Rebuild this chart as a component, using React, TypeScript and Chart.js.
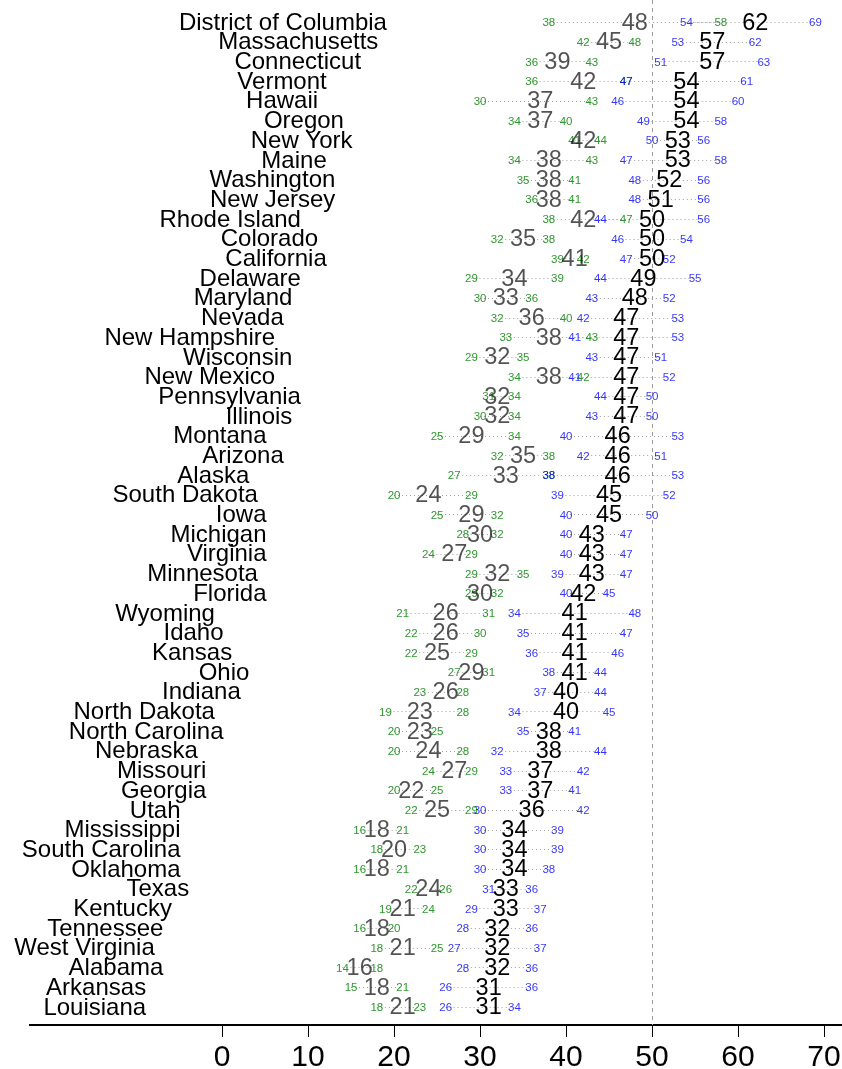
import React, { useEffect, useRef } from "react";
import { Chart, registerables } from "chart.js";

Chart.register(...registerables);

const states = [
  "District of Columbia", "Massachusetts", "Connecticut", "Vermont", "Hawaii", "Oregon",
  "New York", "Maine", "Washington", "New Jersey", "Rhode Island", "Colorado", "California",
  "Delaware", "Maryland", "Nevada", "New Hampshire", "Wisconsin", "New Mexico", "Pennsylvania",
  "Illinois", "Montana", "Arizona", "Alaska", "South Dakota", "Iowa", "Michigan", "Virginia",
  "Minnesota", "Florida", "Wyoming", "Idaho", "Kansas", "Ohio", "Indiana", "North Dakota",
  "North Carolina", "Nebraska", "Missouri", "Georgia", "Utah", "Mississippi", "South Carolina",
  "Oklahoma", "Texas", "Kentucky", "Tennessee", "West Virginia", "Alabama", "Arkansas", "Louisiana",
];

const greenLo = [38, 42, 36, 36, 30, 34, 41, 34, 35, 36, 38, 32, 39, 29, 30, 32, 33, 29, 34, 31, 30, 25, 32, 27, 20, 25, 28, 24, 29, 29, 21, 22, 22, 27, 23, 19, 20, 20, 24, 20, 22, 16, 18, 16, 22, 19, 16, 18, 14, 15, 18];
const greyEst = [48, 45, 39, 42, 37, 37, 42, 38, 38, 38, 42, 35, 41, 34, 33, 36, 38, 32, 38, 32, 32, 29, 35, 33, 24, 29, 30, 27, 32, 30, 26, 26, 25, 29, 26, 23, 23, 24, 27, 22, 25, 18, 20, 18, 24, 21, 18, 21, 16, 18, 21];
const greenHi = [58, 48, 43, 47, 43, 40, 44, 43, 41, 41, 47, 38, 42, 39, 36, 40, 43, 35, 42, 34, 34, 34, 38, 38, 29, 32, 32, 29, 35, 32, 31, 30, 29, 31, 28, 28, 25, 28, 29, 25, 29, 21, 23, 21, 26, 24, 20, 25, 18, 21, 23];
const blueLo = [54, 53, 51, 47, 46, 49, 50, 47, 48, 48, 44, 46, 47, 44, 43, 42, 41, 43, 41, 44, 43, 40, 42, 38, 39, 40, 40, 40, 39, 40, 34, 35, 36, 38, 37, 34, 35, 32, 33, 33, 30, 30, 30, 30, 31, 29, 28, 27, 28, 26, 26];
const blackEst = [62, 57, 57, 54, 54, 54, 53, 53, 52, 51, 50, 50, 50, 49, 48, 47, 47, 47, 47, 47, 47, 46, 46, 46, 45, 45, 43, 43, 43, 42, 41, 41, 41, 41, 40, 40, 38, 38, 37, 37, 36, 34, 34, 34, 33, 33, 32, 32, 32, 31, 31];
const blueHi = [69, 62, 63, 61, 60, 58, 56, 58, 56, 56, 56, 54, 52, 55, 52, 53, 53, 51, 52, 50, 50, 53, 51, 53, 52, 50, 47, 47, 47, 45, 48, 47, 46, 44, 44, 45, 41, 44, 42, 41, 42, 39, 39, 38, 36, 37, 36, 37, 36, 36, 34];

const xTicks = [0, 10, 20, 30, 40, 50, 60, 70];
const referenceValue = 50;
const labelOffset = 35;

const FONT = "'Liberation Sans', Arial, Helvetica, sans-serif";
const GREEN = "rgba(0,128,0,0.82)";
const BLUE = "rgba(0,0,255,0.8)";
const GREY = "rgba(0,0,0,0.68)";
const BLACK = "#000";

const pts = (vals: number[]) => vals.map((v, i) => ({ x: v, y: i }));

const dotPlugin = {
  id: "dotText",
  afterDatasetsDraw(chart: any) {
    const { ctx, chartArea } = chart;
    const xs = chart.scales.x;
    const ys = chart.scales.y;
    ctx.save();
    // reference dashed line
    const xr = Math.round(xs.getPixelForValue(referenceValue)) + 0.5;
    ctx.strokeStyle = "#9a9a9a";
    ctx.lineWidth = 1;
    ctx.setLineDash([4, 4]);
    ctx.beginPath();
    ctx.moveTo(xr, chartArea.top);
    ctx.lineTo(xr, chartArea.bottom);
    ctx.stroke();

    // dotted CI lines
    ctx.strokeStyle = "#a0a0a0";
    ctx.setLineDash([1, 3]);
    for (let i = 0; i < states.length; i++) {
      const y = Math.round(ys.getPixelForValue(i)) + 0.5;
      for (const [a, b] of [[greenLo[i], greenHi[i]], [blueLo[i], blueHi[i]]]) {
        ctx.beginPath();
        ctx.moveTo(xs.getPixelForValue(a), y);
        ctx.lineTo(xs.getPixelForValue(b), y);
        ctx.stroke();
      }
    }
    ctx.setLineDash([]);

    ctx.textAlign = "center";
    ctx.textBaseline = "middle";
    const metas = chart.data.datasets.map((_: any, k: number) => chart.getDatasetMeta(k));
    const drawSet = (k: number, vals: number[], color: string, size: number) => {
      ctx.fillStyle = color;
      ctx.font = `${size}px ${FONT}`;
      metas[k].data.forEach((el: any, i: number) => {
        ctx.fillText(String(vals[i]), el.x, el.y + 1);
      });
    };
    drawSet(0, greenLo, GREEN, 11.5);
    drawSet(2, greenHi, GREEN, 11.5);
    drawSet(1, greyEst, GREY, 23.5);
    drawSet(3, blueLo, BLUE, 11.5);
    drawSet(5, blueHi, BLUE, 11.5);
    drawSet(4, blackEst, BLACK, 23.5);

    // state labels
    ctx.fillStyle = "#000";
    ctx.textAlign = "right";
    ctx.font = `24px ${FONT}`;
    for (let i = 0; i < states.length; i++) {
      const x = xs.getPixelForValue(blueLo[i] - labelOffset) + 1.5;
      const y = ys.getPixelForValue(i);
      ctx.fillText(states[i], x, y + 1);
    }
    ctx.restore();
  },
};

export default function App() {
  const ref = useRef<HTMLCanvasElement | null>(null);
  useEffect(() => {
    if (!ref.current) return;
    const mk = (vals: number[]) => ({
      data: pts(vals),
      pointRadius: 0,
      pointHoverRadius: 0,
      showLine: false,
    });
    const chart = new Chart(ref.current, {
      type: "scatter",
      data: {
        datasets: [mk(greenLo), mk(greyEst), mk(greenHi), mk(blueLo), mk(blackEst), mk(blueHi)],
      },
      options: {
        animation: false,
        responsive: false,
        events: [],
        layout: { padding: { left: 30, right: 0, top: 0, bottom: 0 } },
        plugins: { legend: { display: false }, tooltip: { enabled: false } },
        scales: {
          x: {
            type: "linear",
            min: -22.33,
            max: 72.09,
            afterBuildTicks: (s: any) => {
              s.ticks = xTicks.map((v) => ({ value: v }));
            },
            afterFit: (s: any) => {
              s.height = 44;
              s.paddingLeft = 0;
              s.paddingRight = 0;
            },
            grid: { drawOnChartArea: false, drawTicks: true, tickLength: 12, color: "#000", lineWidth: 1 },
            border: { display: true, color: "#000", width: 2 },
            ticks: {
              color: "#000",
              font: { family: FONT, size: 30 },
              padding: 3,
              maxRotation: 0,
              autoSkip: false,
              callback: (v: any) => String(v),
            },
          },
          y: { type: "linear", display: false, reverse: true, min: -1.12, max: 50.92 },
        },
      } as any,
      plugins: [dotPlugin],
    });
    return () => chart.destroy();
  }, []);
  return (
    <div style={{ position: "absolute", left: 0, top: 0, width: 842, height: 1069 }}>
      <canvas ref={ref} width={842} height={1069} style={{ display: "block", width: 842, height: 1069 }} />
    </div>
  );
}
